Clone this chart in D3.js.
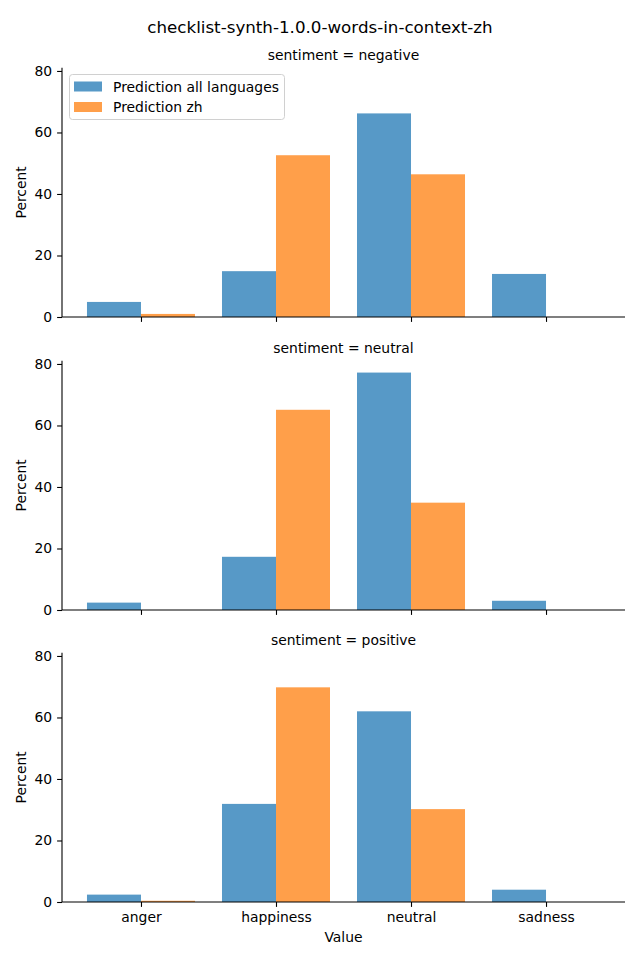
<!DOCTYPE html>
<html><head><meta charset="utf-8">
<script src="https://cdn.jsdelivr.net/npm/d3@7"></script>
<style>body{margin:0;background:#fff}svg{display:block;font-family:"DejaVu Sans",sans-serif}</style>
</head><body><svg id="c" width="640" height="960"></svg>
<script>
const title = "checklist-synth-1.0.0-words-in-context-zh";
const categories = ["anger","happiness","neutral","sadness"];
const panels = ["sentiment = negative","sentiment = neutral","sentiment = positive"];
const seriesNames = ["Prediction all languages","Prediction zh"];
const allLangNegative = [4.9, 14.9, 66.2, 14.0];
const zhNegative      = [1.0, 52.6, 46.4, 0];
const allLangNeutral  = [2.4, 17.3, 77.2, 3.0];
const zhNeutral       = [0, 65.1, 34.9, 0];
const allLangPositive = [2.4, 31.9, 62.0, 4.0];
const zhPositive      = [0.4, 69.8, 30.2, 0];
const yTicks = [0, 20, 40, 60, 80];
const colors = ["rgb(87,153,199)","rgb(255,159,74)"];

const panelData = [
  [allLangNegative, zhNegative],
  [allLangNeutral, zhNeutral],
  [allLangPositive, zhPositive]
];

const svg = d3.select("#c");
svg.append("text").attr("x",320).attr("y",33).attr("text-anchor","middle")
  .attr("font-size","16.7px").text(title);

const left = 62, right = 625;
const panelTops = [67.7, 360.7, 652.7];
const ph = 249.3;
const maxV = d3.max(panelData.flat(2)) * 1.05;
const x = d3.scaleLinear().domain([-0.585, 3.585]).range([left, right]);

panelData.forEach((series, pi) => {
  const top = panelTops[pi], bottom = top + ph;
  const y = d3.scaleLinear().domain([0, maxV]).range([bottom, top]);
  const g = svg.append("g");
  series.forEach((vals, si) => {
    g.selectAll(null).data(vals).enter().append("rect")
      .attr("x", (d,i) => x(i - 0.4 + si*0.4))
      .attr("width", x(0.4) - x(0))
      .attr("y", d => y(d))
      .attr("height", d => bottom - y(d))
      .attr("fill", colors[si]);
  });
  // y axis
  const ya = g.append("g").attr("transform",`translate(${left},0)`)
    .call(d3.axisLeft(y).tickValues(yTicks).tickSize(4.9).tickPadding(4.9));
  ya.select(".domain").attr("d",`M0,${top}V${bottom}`).attr("stroke","#000").attr("stroke-width",1.1);
  ya.selectAll("text").attr("font-size","13.9px").attr("font-family","DejaVu Sans").attr("fill","#000");
  ya.selectAll("line").attr("stroke","#000").attr("stroke-width",1.1);
  // x axis
  const xa = g.append("g").attr("transform",`translate(0,${bottom})`)
    .call(d3.axisBottom(x).tickValues([0,1,2,3]).tickSize(4.9).tickPadding(4.9)
      .tickFormat(pi===2 ? (d => categories[d]) : () => ""));
  xa.select(".domain").attr("d",`M${left},0H${right}`).attr("stroke","#000").attr("stroke-width",1.1);
  xa.selectAll("text").attr("font-size","13.9px").attr("font-family","DejaVu Sans").attr("fill","#000");
  xa.selectAll("line").attr("stroke","#000").attr("stroke-width",1.1);
  // subplot title
  g.append("text").attr("x",(left+right)/2).attr("y",top-8).attr("text-anchor","middle")
    .attr("font-size","13.9px").text(panels[pi]);
  // y label
  g.append("text").attr("transform",`translate(26,${(top+bottom)/2}) rotate(-90)`)
    .attr("text-anchor","middle").attr("font-size","13.9px").text("Percent");
});

svg.append("text").attr("x",(left+right)/2).attr("y",942).attr("text-anchor","middle")
  .attr("font-size","13.9px").text("Value");

// legend
const lg = svg.append("g");
lg.append("rect").attr("x",69.5).attr("y",74.5).attr("width",215).attr("height",45)
  .attr("rx",3).attr("fill","#fff").attr("fill-opacity",0.8).attr("stroke","#d0d0d0");
seriesNames.forEach((n,i) => {
  lg.append("rect").attr("x",74).attr("y",81.5+i*20.5).attr("width",28).attr("height",10).attr("fill",colors[i]);
  lg.append("text").attr("x",113).attr("y",91.5+i*20.5).attr("font-size","13.9px").text(n);
});
</script></body></html>
